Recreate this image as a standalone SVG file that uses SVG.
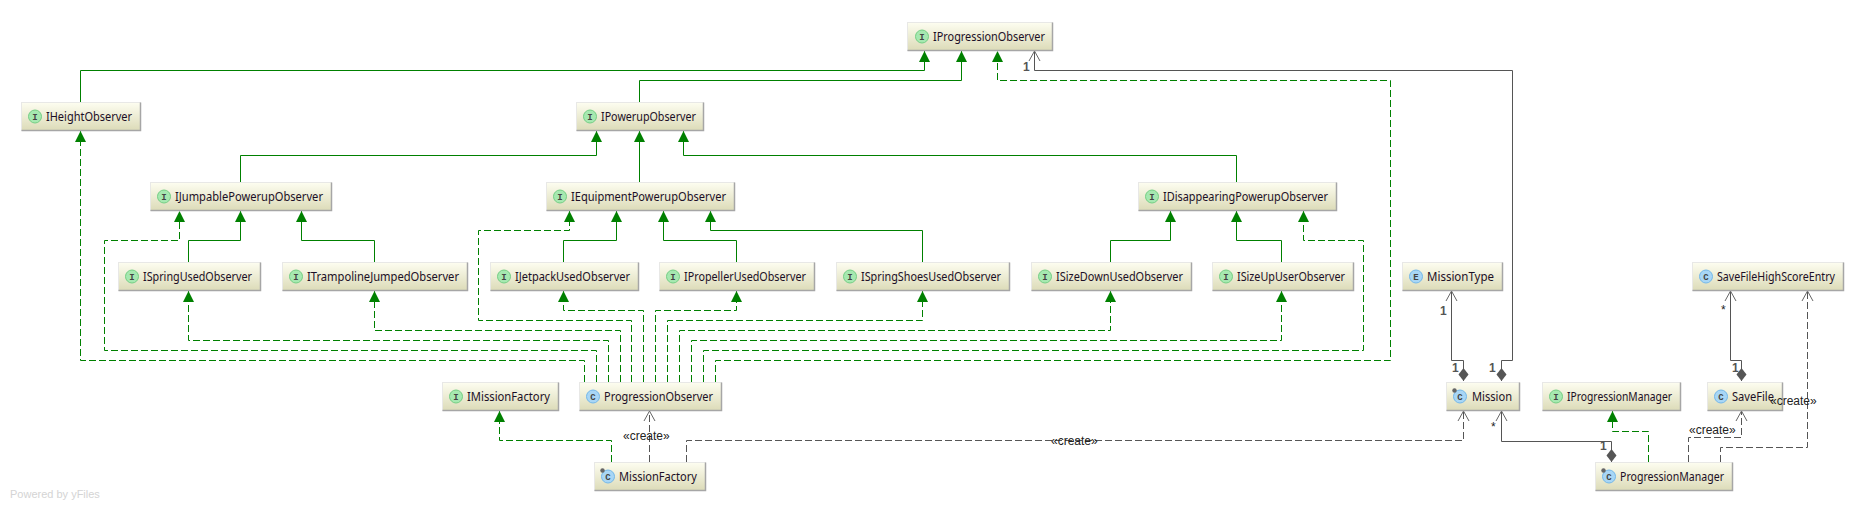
<svg xmlns="http://www.w3.org/2000/svg" width="1868" height="511" viewBox="0 0 1868 511">
<style>
.box{fill:url(#g);stroke:#e8e8e6;stroke-width:1}
.edge{fill:none;stroke:#a6a6a6;stroke-width:1.5}
.t{font-family:"Noto Sans","Liberation Sans",sans-serif;font-size:13px;fill:#1c0f26}
.l{font-family:"Liberation Mono",monospace;font-size:9px;font-weight:bold;fill:#444;text-anchor:middle}
.ii{fill:#a6e8b0;stroke:#74cf84}
.ic{fill:#a8d6f5;stroke:#74b8ea}
.lab{font-family:"Liberation Sans",sans-serif;font-size:12px;fill:#222}
.card{font-weight:bold;fill:#555}
.gs,.gd{fill:none;stroke:#008000;stroke-width:1}
.gd{stroke-dasharray:7 3}
.ad,.as{fill:none;stroke:#555;stroke-width:1}
.ad{stroke-dasharray:7 3}
.tri{marker-end:url(#tri)}
.open{marker-end:url(#open)}
.dia{marker-start:url(#dia)}
</style>
<defs>
<linearGradient id="g" x1="0" y1="0" x2="0" y2="1"><stop offset="0" stop-color="#fdfdf0"/><stop offset="1" stop-color="#dcdbb8"/></linearGradient>
<marker id="tri" markerUnits="userSpaceOnUse" markerWidth="13" markerHeight="13" refX="11" refY="6" orient="auto"><path d="M0 .5L11 6L0 11.5Z" fill="#008000"/></marker>
<marker id="open" markerUnits="userSpaceOnUse" markerWidth="13" markerHeight="14" refX="11" refY="7" orient="auto"><path d="M1 1.5L11 7L1 12.5" fill="none" stroke="#666" stroke-width="1"/></marker>
<marker id="dia" markerUnits="userSpaceOnUse" markerWidth="15" markerHeight="11" refX="0" refY="5.5" orient="auto"><path d="M0 5.5L6.5 .5L13 5.5L6.5 10.5Z" fill="#555"/></marker>
</defs>
<rect width="1868" height="511" fill="#fff"/>

<g id="connectors">
<path class="gs tri" d="M80.5 102V70.5H924.5V51"/>
<path class="gs tri" d="M639.5 102V80.5H961.5V51"/>
<path class="gd tri" d="M715.5 382V360.5H1390.5V80.5H997.5V51"/>
<path class="as open dia" d="M1501.5 381V360.5H1512.5V70.5H1034.5V51"/>
<path class="gs tri" d="M240.5 182V155.5H596.5V131"/>
<path class="gs tri" d="M639.5 182V131"/>
<path class="gs tri" d="M1236.5 182V155.5H683.5V131"/>
<path class="gs tri" d="M188.5 262V240.5H240.5V211"/>
<path class="gs tri" d="M374.5 262V240.5H301.5V211"/>
<path class="gs tri" d="M563.5 262V240.5H616.5V211"/>
<path class="gs tri" d="M736.5 262V240.5H663.5V211"/>
<path class="gs tri" d="M922.5 262V230.5H710.5V211"/>
<path class="gs tri" d="M1110.5 262V240.5H1170.5V211"/>
<path class="gs tri" d="M1281.5 262V240.5H1236.5V211"/>
<path class="gd tri" d="M584.5 382V360.5H80.5V131"/>
<path class="gd tri" d="M596.5 382V350.5H104.5V240.5H179.5V211"/>
<path class="gd tri" d="M608.5 382V340.5H188.5V291"/>
<path class="gd tri" d="M620.5 382V330.5H374.5V291"/>
<path class="gd tri" d="M631.5 382V320.5H478.5V230.5H569.5V211"/>
<path class="gd tri" d="M643.5 382V310.5H563.5V291"/>
<path class="gd tri" d="M655.5 382V310.5H736.5V291"/>
<path class="gd tri" d="M667.5 382V320.5H922.5V291"/>
<path class="gd tri" d="M679.5 382V330.5H1110.5V291"/>
<path class="gd tri" d="M691.5 382V340.5H1281.5V291"/>
<path class="gd tri" d="M703.5 382V350.5H1363.5V240.5H1303.5V211"/>
<path class="gd tri" d="M611.5 462V440.5H499.5V411"/>
<path class="ad open" d="M649.5 462V411"/>
<path class="ad open" d="M686.5 462V440.5H1463.5V411"/>
<path class="as open dia" d="M1611.5 462V441.5H1501.5V411"/>
<path class="as open dia" d="M1463.5 381V360.5H1451.5V291"/>
<path class="as open dia" d="M1741.5 381V360.5H1730.5V291"/>
<path class="gd tri" d="M1648.5 462V431.5H1612.5V411"/>
<path class="ad open" d="M1688.5 462V437.5H1741.5V411"/>
<path class="ad open" d="M1720.5 462V447.5H1807.5V291"/>
</g>

<g id="IProgressionObserver"><rect class="box" x="907.5" y="22.5" width="145" height="28"/><path class="edge" d="M1052.5 22.5V50.5H907.5"/><circle class="ii" cx="922" cy="36.5" r="6.5"/><text class="l" x="922" y="39.5">I</text><text class="t" x="933" y="41" textLength="112" lengthAdjust="spacingAndGlyphs">IProgressionObserver</text></g>
<g id="IHeightObserver"><rect class="box" x="21.5" y="102.5" width="119" height="28"/><path class="edge" d="M140.5 102.5V130.5H21.5"/><circle class="ii" cx="35" cy="116.5" r="6.5"/><text class="l" x="35" y="119.5">I</text><text class="t" x="46" y="121" textLength="86" lengthAdjust="spacingAndGlyphs">IHeightObserver</text></g>
<g id="IPowerupObserver"><rect class="box" x="576.5" y="102.5" width="127" height="28"/><path class="edge" d="M703.5 102.5V130.5H576.5"/><circle class="ii" cx="590" cy="116.5" r="6.5"/><text class="l" x="590" y="119.5">I</text><text class="t" x="601" y="121" textLength="95" lengthAdjust="spacingAndGlyphs">IPowerupObserver</text></g>
<g id="IJumpablePowerupObserver"><rect class="box" x="150.5" y="182.5" width="181" height="28"/><path class="edge" d="M331.5 182.5V210.5H150.5"/><circle class="ii" cx="164" cy="196.5" r="6.5"/><text class="l" x="164" y="199.5">I</text><text class="t" x="175" y="201" textLength="148" lengthAdjust="spacingAndGlyphs">IJumpablePowerupObserver</text></g>
<g id="IEquipmentPowerupObserver"><rect class="box" x="546.5" y="182.5" width="188" height="28"/><path class="edge" d="M734.5 182.5V210.5H546.5"/><circle class="ii" cx="560" cy="196.5" r="6.5"/><text class="l" x="560" y="199.5">I</text><text class="t" x="571" y="201" textLength="155" lengthAdjust="spacingAndGlyphs">IEquipmentPowerupObserver</text></g>
<g id="IDisappearingPowerupObserver"><rect class="box" x="1138.5" y="182.5" width="198" height="28"/><path class="edge" d="M1336.5 182.5V210.5H1138.5"/><circle class="ii" cx="1152" cy="196.5" r="6.5"/><text class="l" x="1152" y="199.5">I</text><text class="t" x="1163" y="201" textLength="165" lengthAdjust="spacingAndGlyphs">IDisappearingPowerupObserver</text></g>
<g id="ISpringUsedObserver"><rect class="box" x="118.5" y="262.5" width="142" height="28"/><path class="edge" d="M260.5 262.5V290.5H118.5"/><circle class="ii" cx="132" cy="276.5" r="6.5"/><text class="l" x="132" y="279.5">I</text><text class="t" x="143" y="281" textLength="109" lengthAdjust="spacingAndGlyphs">ISpringUsedObserver</text></g>
<g id="ITrampolineJumpedObserver"><rect class="box" x="282.5" y="262.5" width="185" height="28"/><path class="edge" d="M467.5 262.5V290.5H282.5"/><circle class="ii" cx="296" cy="276.5" r="6.5"/><text class="l" x="296" y="279.5">I</text><text class="t" x="307" y="281" textLength="152" lengthAdjust="spacingAndGlyphs">ITrampolineJumpedObserver</text></g>
<g id="IJetpackUsedObserver"><rect class="box" x="490.5" y="262.5" width="148" height="28"/><path class="edge" d="M638.5 262.5V290.5H490.5"/><circle class="ii" cx="504" cy="276.5" r="6.5"/><text class="l" x="504" y="279.5">I</text><text class="t" x="515" y="281" textLength="115" lengthAdjust="spacingAndGlyphs">IJetpackUsedObserver</text></g>
<g id="IPropellerUsedObserver"><rect class="box" x="659.5" y="262.5" width="155" height="28"/><path class="edge" d="M814.5 262.5V290.5H659.5"/><circle class="ii" cx="673" cy="276.5" r="6.5"/><text class="l" x="673" y="279.5">I</text><text class="t" x="684" y="281" textLength="122" lengthAdjust="spacingAndGlyphs">IPropellerUsedObserver</text></g>
<g id="ISpringShoesUsedObserver"><rect class="box" x="836.5" y="262.5" width="173" height="28"/><path class="edge" d="M1009.5 262.5V290.5H836.5"/><circle class="ii" cx="850" cy="276.5" r="6.5"/><text class="l" x="850" y="279.5">I</text><text class="t" x="861" y="281" textLength="140" lengthAdjust="spacingAndGlyphs">ISpringShoesUsedObserver</text></g>
<g id="ISizeDownUsedObserver"><rect class="box" x="1031.5" y="262.5" width="160" height="28"/><path class="edge" d="M1191.5 262.5V290.5H1031.5"/><circle class="ii" cx="1045" cy="276.5" r="6.5"/><text class="l" x="1045" y="279.5">I</text><text class="t" x="1056" y="281" textLength="127" lengthAdjust="spacingAndGlyphs">ISizeDownUsedObserver</text></g>
<g id="ISizeUpUserObserver"><rect class="box" x="1212.5" y="262.5" width="141" height="28"/><path class="edge" d="M1353.5 262.5V290.5H1212.5"/><circle class="ii" cx="1226" cy="276.5" r="6.5"/><text class="l" x="1226" y="279.5">I</text><text class="t" x="1237" y="281" textLength="108" lengthAdjust="spacingAndGlyphs">ISizeUpUserObserver</text></g>
<g id="MissionType"><rect class="box" x="1402.5" y="262.5" width="100" height="28"/><path class="edge" d="M1502.5 262.5V290.5H1402.5"/><circle class="ic" cx="1416" cy="276.5" r="6.5"/><text class="l" x="1416" y="279.5">E</text><text class="t" x="1427" y="281" textLength="67" lengthAdjust="spacingAndGlyphs">MissionType</text></g>
<g id="SaveFileHighScoreEntry"><rect class="box" x="1692.5" y="262.5" width="151" height="28"/><path class="edge" d="M1843.5 262.5V290.5H1692.5"/><circle class="ic" cx="1706" cy="276.5" r="6.5"/><text class="l" x="1706" y="279.5">C</text><text class="t" x="1717" y="281" textLength="118" lengthAdjust="spacingAndGlyphs">SaveFileHighScoreEntry</text></g>
<g id="IMissionFactory"><rect class="box" x="442.5" y="382.5" width="116" height="28"/><path class="edge" d="M558.5 382.5V410.5H442.5"/><circle class="ii" cx="456" cy="396.5" r="6.5"/><text class="l" x="456" y="399.5">I</text><text class="t" x="467" y="401" textLength="83" lengthAdjust="spacingAndGlyphs">IMissionFactory</text></g>
<g id="ProgressionObserver"><rect class="box" x="579.5" y="382.5" width="142" height="28"/><path class="edge" d="M721.5 382.5V410.5H579.5"/><circle class="ic" cx="593" cy="396.5" r="6.5"/><text class="l" x="593" y="399.5">C</text><text class="t" x="604" y="401" textLength="109" lengthAdjust="spacingAndGlyphs">ProgressionObserver</text></g>
<g id="Mission"><rect class="box" x="1446.5" y="382.5" width="73" height="28"/><path class="edge" d="M1519.5 382.5V410.5H1446.5"/><circle class="ic" cx="1460" cy="396.5" r="6.5"/><text class="l" x="1460" y="399.5">C</text><circle cx="1454.5" cy="390.5" r="2.2" fill="#666"/><text class="t" x="1472" y="401" textLength="40" lengthAdjust="spacingAndGlyphs">Mission</text></g>
<g id="IProgressionManager"><rect class="box" x="1542.5" y="382.5" width="138" height="28"/><path class="edge" d="M1680.5 382.5V410.5H1542.5"/><circle class="ii" cx="1556" cy="396.5" r="6.5"/><text class="l" x="1556" y="399.5">I</text><text class="t" x="1567" y="401" textLength="105" lengthAdjust="spacingAndGlyphs">IProgressionManager</text></g>
<g id="SaveFile"><rect class="box" x="1707.5" y="382.5" width="75" height="28"/><path class="edge" d="M1782.5 382.5V410.5H1707.5"/><circle class="ic" cx="1721" cy="396.5" r="6.5"/><text class="l" x="1721" y="399.5">C</text><text class="t" x="1732" y="401" textLength="42" lengthAdjust="spacingAndGlyphs">SaveFile</text></g>
<g id="MissionFactory"><rect class="box" x="594.5" y="462.5" width="111" height="28"/><path class="edge" d="M705.5 462.5V490.5H594.5"/><circle class="ic" cx="608" cy="476.5" r="6.5"/><text class="l" x="608" y="479.5">C</text><circle cx="602.5" cy="470.5" r="2.2" fill="#666"/><text class="t" x="619" y="481" textLength="78" lengthAdjust="spacingAndGlyphs">MissionFactory</text></g>
<g id="ProgressionManager"><rect class="box" x="1595.5" y="462.5" width="137" height="28"/><path class="edge" d="M1732.5 462.5V490.5H1595.5"/><circle class="ic" cx="1609" cy="476.5" r="6.5"/><text class="l" x="1609" y="479.5">C</text><circle cx="1603.5" cy="470.5" r="2.2" fill="#666"/><text class="t" x="1620" y="481" textLength="104" lengthAdjust="spacingAndGlyphs">ProgressionManager</text></g>

<g id="labels">
<text class="lab card" x="1023" y="71">1</text>
<text class="lab card" x="1440" y="315">1</text>
<text class="lab card" x="1452" y="372">1</text>
<text class="lab card" x="1489" y="372">1</text>
<text class="lab" x="1491" y="431">*</text>
<text class="lab card" x="1600" y="450">1</text>
<text class="lab" x="1721" y="314">*</text>
<text class="lab card" x="1732" y="372">1</text>
<text class="lab" x="623" y="440">«create»</text>
<text class="lab" x="1051" y="445">«create»</text>
<text class="lab" x="1689" y="434">«create»</text>
<text class="lab" x="1770" y="405">«create»</text>
</g>
<text x="10" y="498" font-family="Liberation Sans,sans-serif" font-size="11" fill="#d4d4d4">Powered by yFiles</text>
</svg>
